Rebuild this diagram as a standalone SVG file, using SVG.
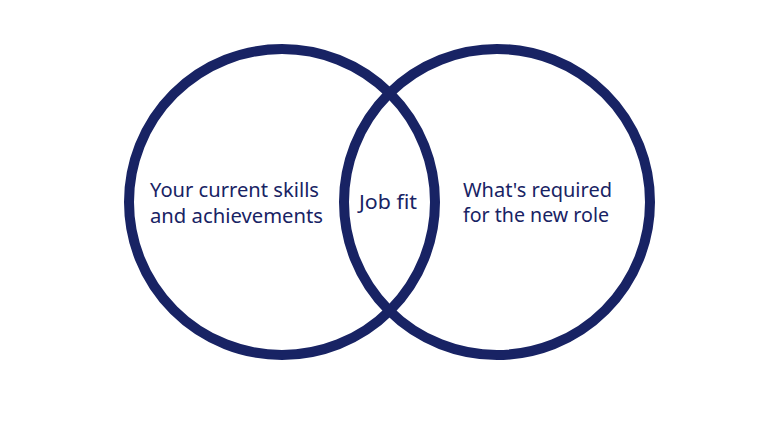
<svg xmlns="http://www.w3.org/2000/svg" width="780" height="439" viewBox="0 0 780 439">
<style>
.c{fill:none;stroke:#182364;stroke-width:10}
.t{font-family:"Noto Sans","Open Sans",sans-serif;font-size:19.5px;fill:#182364}
</style>
<rect width="780" height="439" fill="#ffffff"/>
<g id="left-circle">
<circle class="c" cx="282" cy="202" r="153"/>
<text class="t" x="150" y="197" textLength="169" lengthAdjust="spacingAndGlyphs">Your current skills</text>
<text class="t" x="150" y="223" textLength="173" lengthAdjust="spacingAndGlyphs">and achievements</text>
</g>
<g id="right-circle">
<circle class="c" cx="497" cy="202" r="153"/>
<text class="t" x="463" y="197" textLength="149" lengthAdjust="spacingAndGlyphs">What's required</text>
<text class="t" x="463" y="222" textLength="146" lengthAdjust="spacingAndGlyphs">for the new role</text>
</g>
<g id="overlap">
<text class="t" x="359" y="209" textLength="58" lengthAdjust="spacingAndGlyphs">Job fit</text>
</g>
<g id="connectors"></g>
</svg>
